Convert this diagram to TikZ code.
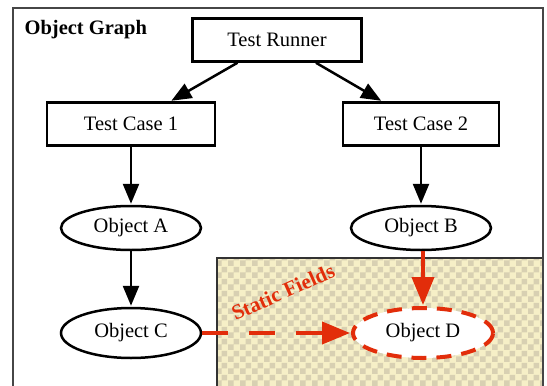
\documentclass[tikz,border=0pt]{standalone}
\usepackage{fontspec}
\setmainfont{Liberation Serif}
\usetikzlibrary{arrows.meta,shapes.geometric,patterns}
\definecolor{fieldred}{RGB}{226,45,10}
\definecolor{checklight}{RGB}{246,239,199}
\definecolor{checkdark}{RGB}{216,208,178}
\definecolor{framegray}{RGB}{70,70,70}
\pgfdeclarepatternformonly{bigchecker}{\pgfpointorigin}{\pgfqpoint{12pt}{12pt}}{\pgfqpoint{12pt}{12pt}}{%
  \pgfpathrectangle{\pgfpointorigin}{\pgfqpoint{6pt}{6pt}}%
  \pgfpathrectangle{\pgfqpoint{6pt}{6pt}}{\pgfqpoint{6pt}{6pt}}%
  \pgfusepath{fill}}

\begin{document}
\begin{tikzpicture}[x=1pt,y=-1pt,->,>={Triangle[length=20pt,width=16pt]},shorten >=1pt,
  line width=2.5pt,
  box node/.style={rectangle,draw,fill=white,minimum height=43pt,
    font=\fontsize{20.5}{24}\selectfont},
  obj node/.style={ellipse,draw,fill=white,minimum width=140pt,
    minimum height=44pt,inner sep=0pt,font=\fontsize{20.5}{24}\selectfont},
  static node/.style={obj node,draw=fieldred,line width=4pt,
    dash pattern=on 15pt off 10pt}]

  \useasboundingbox (0,0) rectangle (547,386);

  % static field area
  \fill[checklight] (217,258) rectangle (543,390);
  \fill[pattern=bigchecker,pattern color=checkdark] (217,258) rectangle (543,390);
  \draw[-,line width=1.2pt,black!80] (217,390) |- (543,258);

  % frame of the object graph
  \draw[-,framegray,line width=2pt] (13,390) |- (543,8) -- (543,390);
  \node[anchor=west,font=\bfseries\fontsize{20.5}{24}\selectfont] (title) at (20,30) {Object Graph};

  \node[box node,minimum width=169pt] (runner) at (277,40) {Test Runner};
  \node[box node,minimum width=168pt] (tcone) at (131,124) {Test Case 1};
  \node[box node,minimum width=156pt] (tctwo) at (421,124) {Test Case 2};
  \node[obj node] (objA) at (131,228) {Object A};
  \node[obj node] (objB) at (421,228) {Object B};
  \node[obj node,minimum height=50pt] (objC) at (131,333) {Object C};
  \node[static node,minimum height=50pt] (objD) at (423,333) {Object D};
  \node[rotate=24,text=fieldred,font=\bfseries\fontsize{21}{24}\selectfont] (static) at (283,292) {Static Fields};

  \path
    (runner) edge (tcone)
    (runner) edge (tctwo)
    (tcone) edge (objA)
    (tctwo) edge (objB)
    (objA) edge (objC);

  \path[fieldred,line width=4pt,>={Triangle[length=28pt,width=22pt]}]
    (objB.south -| objD.north) edge (objD)
    (objC) edge[dash pattern=on 26pt off 21pt] (objD);
\end{tikzpicture}
\end{document}
